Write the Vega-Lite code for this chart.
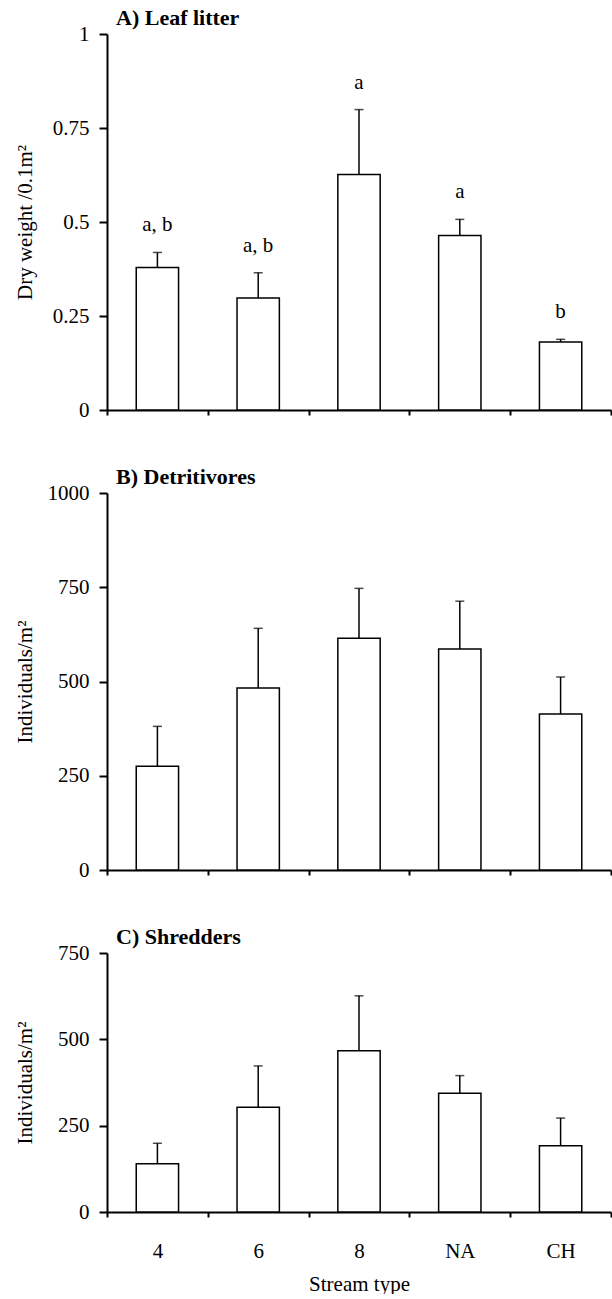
{
  "$schema": "https://vega.github.io/schema/vega-lite/v6.json",
  "background": "white",
  "padding": {"left": 14, "top": 7, "right": 0, "bottom": 0},
  "spacing": 46,
  "config": {
    "font": "Liberation Serif",
    "view": {"stroke": null},
    "axis": {
      "grid": false,
      "domainColor": "black",
      "domainWidth": 2,
      "tickColor": "black",
      "tickWidth": 2,
      "labelFont": "Liberation Serif",
      "labelFontSize": 21,
      "labelColor": "black",
      "titleFont": "Liberation Serif",
      "titleFontSize": 21,
      "titleFontWeight": "normal",
      "titleColor": "black"
    },
    "title": {"font": "Liberation Serif", "fontSize": 22, "fontWeight": "bold", "color": "black", "anchor": "start", "frame": "group"}
  },
  "vconcat": [
    {
      "width": 504,
      "height": 376,
      "title": {"text": "A) Leaf litter", "dx": 9, "offset": -7},
      "data": {"values": [
        {"stream": "4", "mean": 0.379, "upper": 0.419, "letter": "a, b"},
        {"stream": "6", "mean": 0.298, "upper": 0.365, "letter": "a, b"},
        {"stream": "8", "mean": 0.626, "upper": 0.799, "letter": "a"},
        {"stream": "NA", "mean": 0.464, "upper": 0.507, "letter": "a"},
        {"stream": "CH", "mean": 0.181, "upper": 0.188, "letter": "b"}
      ]},
      "encoding": {
        "x": {"field": "stream", "type": "nominal", "sort": ["4", "6", "8", "NA", "CH"], "scale": {"paddingInner": 0, "paddingOuter": 0}, "title": null,
          "axis": {"labels": false, "tickBand": "extent", "tickSize": 5}}
      },
      "layer": [
        {"mark": {"type": "bar", "fill": "white", "stroke": "black", "strokeWidth": 1.5, "width": {"band": 0.42}},
         "encoding": {"y": {"field": "mean", "type": "quantitative", "scale": {"domain": [0, 1], "nice": false},
           "axis": {"values": [0, 0.25, 0.5, 0.75, 1], "labelExpr": "'' + datum.value", "tickSize": 8, "labelPadding": 10, "titlePadding": 17},
           "title": "Dry weight /0.1m²"}}},
        {"mark": {"type": "rule", "color": "black", "strokeWidth": 1.5},
         "encoding": {"y": {"field": "mean", "type": "quantitative"}, "y2": {"field": "upper"}}},
        {"mark": {"type": "tick", "orient": "horizontal", "color": "black", "thickness": 1.5, "size": 9},
         "encoding": {"y": {"field": "upper", "type": "quantitative"}}},
        {"mark": {"type": "text", "dy": -27, "fontSize": 21, "font": "Liberation Serif", "baseline": "middle", "color": "black"},
         "encoding": {"y": {"field": "upper", "type": "quantitative"}, "text": {"field": "letter"}}}
      ]
    },
    {
      "width": 504,
      "height": 377,
      "title": {"text": "B) Detritivores", "dx": 9, "offset": -7},
      "data": {"values": [
        {"stream": "4", "mean": 275, "upper": 381},
        {"stream": "6", "mean": 483, "upper": 641},
        {"stream": "8", "mean": 615, "upper": 747},
        {"stream": "NA", "mean": 586, "upper": 713},
        {"stream": "CH", "mean": 414, "upper": 512}
      ]},
      "encoding": {
        "x": {"field": "stream", "type": "nominal", "sort": ["4", "6", "8", "NA", "CH"], "scale": {"paddingInner": 0, "paddingOuter": 0}, "title": null,
          "axis": {"labels": false, "tickBand": "extent", "tickSize": 5}}
      },
      "layer": [
        {"mark": {"type": "bar", "fill": "white", "stroke": "black", "strokeWidth": 1.5, "width": {"band": 0.42}},
         "encoding": {"y": {"field": "mean", "type": "quantitative", "scale": {"domain": [0, 1000], "nice": false},
           "axis": {"values": [0, 250, 500, 750, 1000], "labelExpr": "'' + datum.value", "tickSize": 8, "labelPadding": 10, "titlePadding": 12},
           "title": "Individuals/m²"}}},
        {"mark": {"type": "rule", "color": "black", "strokeWidth": 1.5},
         "encoding": {"y": {"field": "mean", "type": "quantitative"}, "y2": {"field": "upper"}}},
        {"mark": {"type": "tick", "orient": "horizontal", "color": "black", "thickness": 1.5, "size": 9},
         "encoding": {"y": {"field": "upper", "type": "quantitative"}}}
      ]
    },
    {
      "width": 504,
      "height": 259,
      "title": {"text": "C) Shredders", "dx": 9, "offset": -7},
      "data": {"values": [
        {"stream": "4", "mean": 140, "upper": 199},
        {"stream": "6", "mean": 303, "upper": 423},
        {"stream": "8", "mean": 467, "upper": 626},
        {"stream": "NA", "mean": 344, "upper": 395},
        {"stream": "CH", "mean": 192, "upper": 272}
      ]},
      "encoding": {
        "x": {"field": "stream", "type": "nominal", "sort": ["4", "6", "8", "NA", "CH"], "scale": {"paddingInner": 0, "paddingOuter": 0}, "title": "Stream type",
          "axis": {"labels": true, "labelAngle": 0, "tickBand": "extent", "tickSize": 5, "labelPadding": 23, "titlePadding": 12}}
      },
      "layer": [
        {"mark": {"type": "bar", "fill": "white", "stroke": "black", "strokeWidth": 1.5, "width": {"band": 0.42}},
         "encoding": {"y": {"field": "mean", "type": "quantitative", "scale": {"domain": [0, 750], "nice": false},
           "axis": {"values": [0, 250, 500, 750], "labelExpr": "'' + datum.value", "tickSize": 8, "labelPadding": 10, "titlePadding": 22},
           "title": "Individuals/m²"}}},
        {"mark": {"type": "rule", "color": "black", "strokeWidth": 1.5},
         "encoding": {"y": {"field": "mean", "type": "quantitative"}, "y2": {"field": "upper"}}},
        {"mark": {"type": "tick", "orient": "horizontal", "color": "black", "thickness": 1.5, "size": 9},
         "encoding": {"y": {"field": "upper", "type": "quantitative"}}}
      ]
    }
  ]
}
